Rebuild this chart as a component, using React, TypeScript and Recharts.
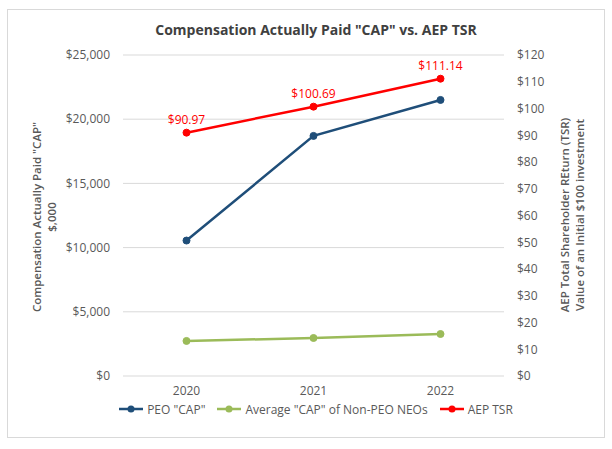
import { ComposedChart, Line, XAxis, YAxis, CartesianGrid, Legend, LabelList } from 'recharts';

const years = ['2020', '2021', '2022'];
const peoCap = [10550, 18700, 21500];
const nonPeoCap = [2730, 2960, 3270];
const aepTsr = [90.97, 100.69, 111.14];

const leftTicks = [0, 5000, 10000, 15000, 20000, 25000];
const rightTicks = [0, 10, 20, 30, 40, 50, 60, 70, 80, 90, 100, 110, 120];

const FONT = '"Open Sans", "Noto Sans", sans-serif';
const TEXT = '#595959';

const SERIES = [
  { key: 'peo', name: 'PEO "CAP"', color: '#1F4E79' },
  { key: 'nonPeo', name: 'Average "CAP" of Non-PEO NEOs', color: '#9BBB59' },
  { key: 'tsr', name: 'AEP TSR', color: '#FF0000' },
];

const data = years.map((year, i) => ({
  year,
  peo: peoCap[i],
  nonPeo: nonPeoCap[i],
  tsr: aepTsr[i],
}));

const fmtMoney = (v: number) => '$' + v.toLocaleString('en-US');

function LegendRow() {
  return (
    <div style={{ display: 'flex', justifyContent: 'center', alignItems: 'center', height: 18, fontFamily: FONT, fontSize: 12, color: TEXT, paddingLeft: 20 }}>
      {SERIES.map((s, i) => (
        <div key={s.key} style={{ display: 'flex', alignItems: 'center', marginRight: i < SERIES.length - 1 ? 12 : 0 }}>
          <svg width={24} height={10} style={{ marginRight: 4 }}>
            <line x1={0} y1={5} x2={24} y2={5} stroke={s.color} strokeWidth={2.5} />
            <circle cx={12} cy={5} r={3.5} fill={s.color} />
          </svg>
          <span>{s.name}</span>
        </div>
      ))}
    </div>
  );
}

function AxisTitle({ x, cy, lines }: { x: number; cy: number; lines: string[] }) {
  return (
    <text
      transform={`rotate(-90, ${x}, ${cy})`}
      x={x}
      y={cy}
      textAnchor="middle"
      fontFamily={FONT}
      fontSize={11.5}
      fontWeight={600}
      fill={TEXT}
    >
      {lines.map((l, i) => (
        <tspan key={i} x={x} dy={i === 0 ? '0.35em' : 15}>{l}</tspan>
      ))}
    </text>
  );
}

export default function App() {
  return (
    <div style={{ position: 'absolute', left: 0, top: 0, width: 612, height: 449, background: '#fff' }}>
      <div style={{ position: 'absolute', left: 7, top: 9, width: 596, height: 427, border: '1px solid #D9D9D9' }} />
      <ComposedChart
        width={612}
        height={449}
        data={data}
        margin={{ top: 55, right: 10, left: 10, bottom: 31 }}
        style={{ position: 'absolute', left: 0, top: 0 }}
      >
        <text x={316} y={31} textAnchor="middle" dominantBaseline="middle" fontFamily={FONT} fontSize={14} fontWeight={700} fill="#404040">
          Compensation Actually Paid "CAP" vs. AEP TSR
        </text>
        <CartesianGrid vertical={false} stroke="#D9D9D9" yAxisId="left" />
        <XAxis
          dataKey="year"
          scale="band"
          axisLine={false}
          tickLine={false}
          height={24}
          tickMargin={4}
          tick={{ fontFamily: FONT, fontSize: 12, fill: TEXT }}
        />
        <YAxis
          yAxisId="left"
          width={113}
          domain={[0, 25000]}
          ticks={leftTicks}
          tickFormatter={fmtMoney}
          axisLine={false}
          tickLine={false}
          tickMargin={7}
          tick={{ fontFamily: FONT, fontSize: 12, fill: TEXT }}
          label={{ content: () => <AxisTitle x={37} cy={217} lines={['Compensation Actually Paid "CAP"', '$,000']} /> }}
        />
        <YAxis
          yAxisId="right"
          orientation="right"
          width={98}
          domain={[0, 120]}
          ticks={rightTicks}
          tickFormatter={fmtMoney}
          axisLine={false}
          tickLine={false}
          tickMargin={7}
          tick={{ fontFamily: FONT, fontSize: 12, fill: TEXT }}
          label={{ content: () => <AxisTitle x={565} cy={215} lines={['AEP Total Shareholder REturn (TSR)', 'Value of an Initial $100 investment']} /> }}
        />
        <Legend verticalAlign="bottom" content={() => <LegendRow />} />
        <Line
          yAxisId="left"
          dataKey="peo"
          name={SERIES[0].name}
          stroke={SERIES[0].color}
          strokeWidth={2.5}
          dot={{ r: 3.5, fill: SERIES[0].color, stroke: SERIES[0].color, strokeWidth: 1 }}
          isAnimationActive={false}
        />
        <Line
          yAxisId="left"
          dataKey="nonPeo"
          name={SERIES[1].name}
          stroke={SERIES[1].color}
          strokeWidth={2.5}
          dot={{ r: 3.5, fill: SERIES[1].color, stroke: SERIES[1].color, strokeWidth: 1 }}
          isAnimationActive={false}
        />
        <Line
          yAxisId="right"
          dataKey="tsr"
          name={SERIES[2].name}
          stroke={SERIES[2].color}
          strokeWidth={2.5}
          dot={{ r: 3.5, fill: SERIES[2].color, stroke: SERIES[2].color, strokeWidth: 1 }}
          isAnimationActive={false}
        >
          <LabelList
            dataKey="tsr"
            position="top"
            offset={9}
            formatter={(v: any) => '$' + Number(v).toFixed(2)}
            style={{ fontFamily: FONT, fontSize: 12, fill: '#FF0000' }}
          />
        </Line>
      </ComposedChart>
    </div>
  );
}
